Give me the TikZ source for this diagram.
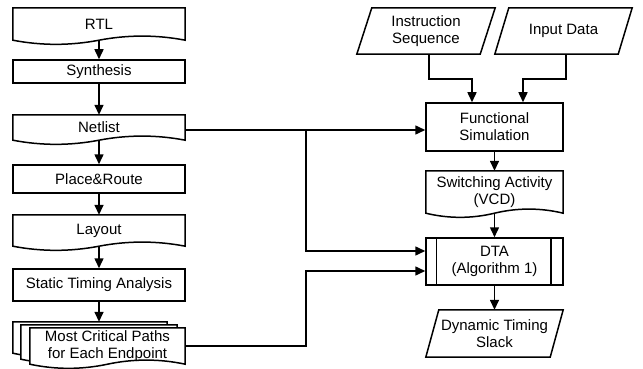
\documentclass[tikz,border=0pt]{standalone}
\usepackage{fontspec}
\setmainfont{Liberation Sans}
\usetikzlibrary{arrows.meta,calc,backgrounds}
\tikzset{
  lw/.style={line width=1.5pt},
  arr/.style={lw, -{Triangle[length=10pt,width=9pt]}},
  txt/.style={inner sep=0pt, align=center, font=\fontsize{15}{17}\selectfont},
  procbox/.style={txt, draw, lw},
  outline/.style={lw, fill=white, line join=miter},
}
\newcommand{\mkbox}[7]{\node[#7, minimum width={#4-#2}, minimum height={#5-#3}] (#1) at ({(#2+#4)/2},{(#3+#5)/2}) {#6};}
\newcommand{\docpath}[2]{\draw[outline] (#1.north west) -- (#1.north east) -- (#1.south east) .. controls +(-#2,-5.5) and +(#2,-5.5) .. (#1.south) .. controls +(-#2,5.5) and +(#2,5.5) .. (#1.south west) -- cycle;}
\newcommand{\parapath}[2]{\draw[outline] ([xshift=#2]#1.north west) -- (#1.north east) -- ([xshift=-#2]#1.south east) -- (#1.south west) -- cycle;}
\begin{document}
\begin{tikzpicture}[x=1pt,y=-1pt]
\useasboundingbox (0,0) rectangle (643,369);
% left column
\mkbox{rtl}{13}{8}{185}{40}{RTL}{txt}
\mkbox{syn}{13}{60}{185}{83}{Synthesis}{procbox}
\mkbox{net}{13}{115}{185}{140}{Netlist}{txt}
\mkbox{pr}{13}{165}{185}{193}{Place\&Route}{procbox}
\mkbox{lay}{13}{215}{185}{246}{Layout}{txt}
\mkbox{sta}{13}{269}{185}{301}{Static Timing Analysis}{procbox}
\mkbox{mcpB}{13}{322}{167}{353}{}{txt}
\mkbox{mcpM}{21}{325}{177}{359}{}{txt}
\mkbox{mcp}{30}{328}{185}{364}{Most Critical Paths\\for Each Endpoint}{txt}
% right column
\mkbox{ins}{357}{8}{495}{54}{Instruction\\Sequence}{txt}
\mkbox{inp}{495}{8}{632}{54}{Input Data}{txt}
\mkbox{fs}{426}{103}{563}{151}{Functional\\Simulation}{procbox}
\mkbox{sa}{426}{171}{563}{213}{Switching Activity\\(VCD)}{txt}
\mkbox{dta}{426}{238}{563}{285}{DTA\\(Algorithm 1)}{procbox}
\mkbox{dts}{426}{310}{563}{357}{Dynamic Timing\\Slack}{txt}
\begin{scope}[on background layer]
  \docpath{rtl}{28.7}
  \docpath{net}{28.7}
  \docpath{lay}{28.7}
  \docpath{mcpB}{25.7}
  \docpath{mcpM}{26}
  \docpath{mcp}{25.8}
  \docpath{sa}{22.8}
  \parapath{ins}{15pt}
  \parapath{inp}{14pt}
  \parapath{dts}{13pt}
\end{scope}
\draw[lw] ([xshift=11pt]dta.north west) -- ([xshift=11pt]dta.south west);
\draw[lw] ([xshift=-13pt]dta.north east) -- ([xshift=-13pt]dta.south east);
% left column arrows
\draw[arr] (rtl.south) -- (syn.north);
\draw[arr] (syn.south) -- (net.north);
\draw[arr] (net.south) -- (pr.north);
\draw[arr] (pr.south) -- (lay.north);
\draw[arr] (lay.south) -- (sta.north);
\draw[arr] (sta.south) -- (mcpB.north -| sta.south);
% right column arrows
\draw[arr] ([xshift=3pt]ins.south) -- ++(0,25) -| ([xshift=-22.5pt]fs.north);
\draw[arr] ([xshift=2.5pt]inp.south) -- ++(0,25) -| ([xshift=28.5pt]fs.north);
\draw[arr] (fs.south) -- (sa.north);
\draw[arr] (sa.south) -- (dta.north);
\draw[arr] (dta.south) -- (dts.north);
% cross connectors
\coordinate (j1) at (306,130);
\coordinate (j2) at (306,251);
\coordinate (j3) at (306,271);
\coordinate (j4) at (306,346);
\draw[arr] (net.east |- j1) -- (fs.west |- j1);
\draw[arr] (j1) -- (j2) -- (dta.west |- j2);
\draw[arr] (mcp.east |- j4) -- (j4) -- (j3) -- (dta.west |- j3);
\end{tikzpicture}
\end{document}
